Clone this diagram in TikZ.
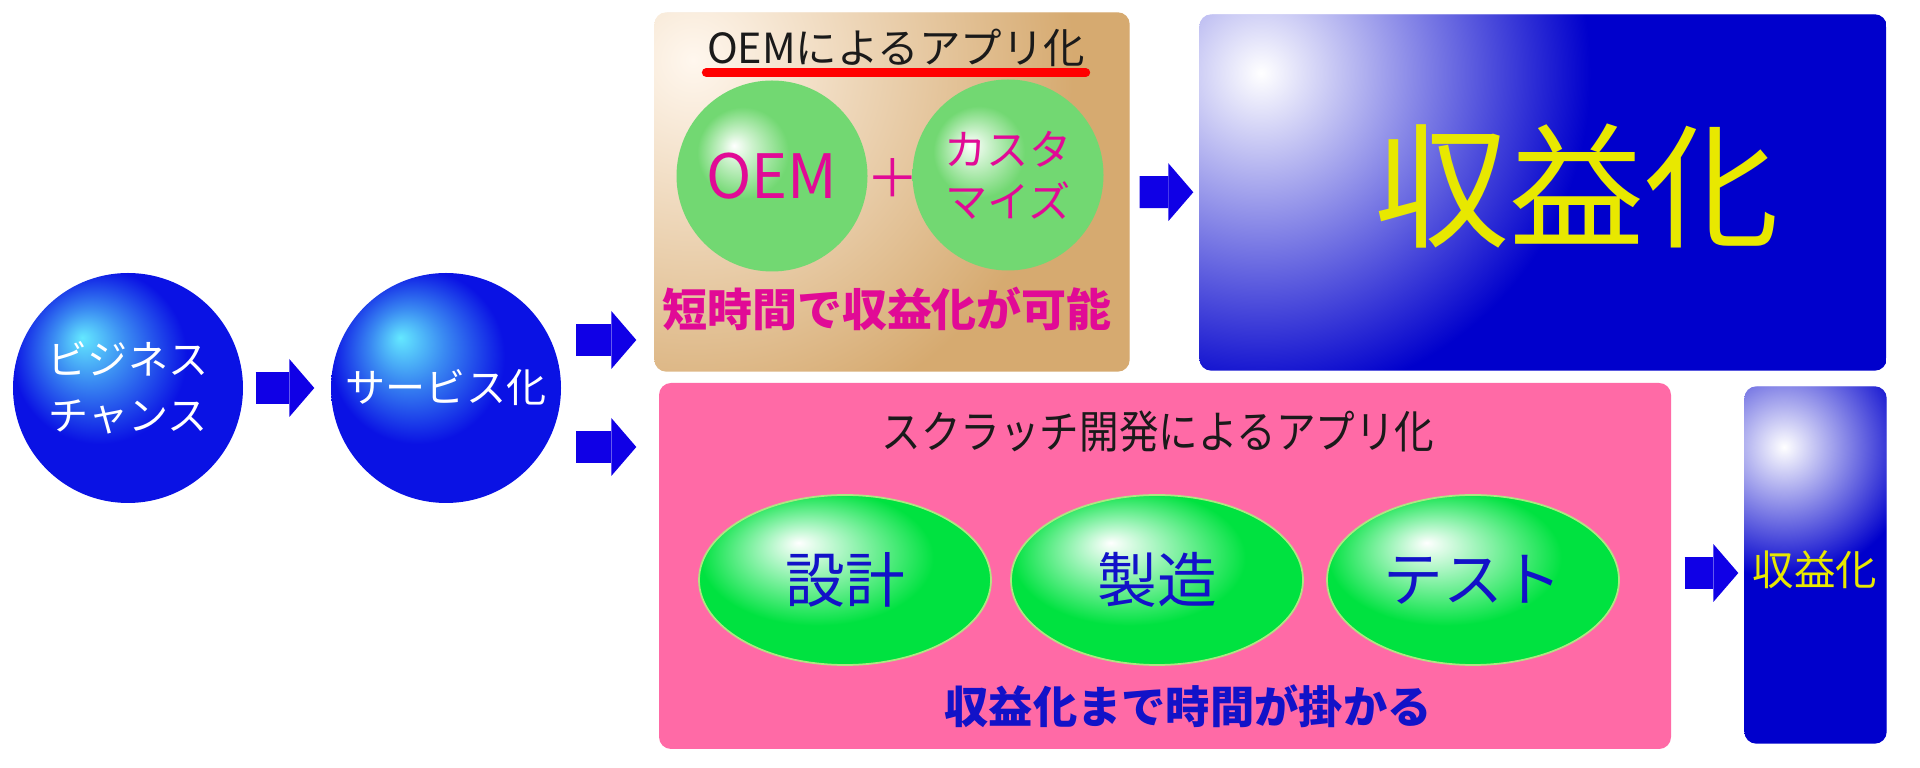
\documentclass[tikz,border=0pt]{standalone}
\usepackage{fontspec}
\setmainfont{Noto Sans CJK JP}
\usetikzlibrary{arrows.meta, positioning, shapes.geometric}

\definecolor{ballblue}{RGB}{10,18,228}
\definecolor{ballcyan}{RGB}{100,232,255}
\definecolor{ballmid}{RGB}{58,138,242}
\definecolor{oemtan}{RGB}{214,170,112}
\definecolor{oemlight}{RGB}{255,247,238}
\definecolor{leafgreen}{RGB}{114,216,114}
\definecolor{leaflight}{RGB}{205,242,205}
\definecolor{oemmagenta}{RGB}{225,10,150}
\definecolor{goalblue}{RGB}{0,0,204}
\definecolor{scrpink}{RGB}{255,106,166}
\definecolor{stepgreen}{RGB}{0,226,64}
\definecolor{steplight}{RGB}{165,245,190}
\definecolor{stepedge}{RGB}{175,230,130}
\definecolor{textblue}{RGB}{18,18,200}
\definecolor{goalyellow}{RGB}{232,232,0}
\definecolor{arrowblue}{RGB}{16,0,230}
\definecolor{titleblack}{RGB}{26,26,26}

% 球の陰影（左上にハイライト）
\pgfdeclareradialshading{bluesphere}{\pgfpoint{-10bp}{11bp}}{color(0bp)=(ballcyan); color(8bp)=(ballmid); color(19bp)=(ballblue); color(50bp)=(ballblue)}
\pgfdeclareradialshading{leafsphere}{\pgfpoint{-10bp}{8bp}}{color(0bp)=(white); color(4bp)=(leaflight); color(12bp)=(leafgreen); color(50bp)=(leafgreen)}
\pgfdeclareradialshading{stepsphere}{\pgfpoint{-8bp}{11bp}}{color(0bp)=(white); color(7bp)=(steplight); color(20bp)=(stepgreen); color(50bp)=(stepgreen)}
% 箱の光（8bp で地の色になる）
\pgfdeclareradialshading{blueglow}{\pgfpoint{0bp}{0bp}}{color(0bp)=(white); color(8bp)=(goalblue); color(50bp)=(goalblue)}
\pgfdeclareradialshading{tanglow}{\pgfpoint{0bp}{0bp}}{color(0bp)=(oemlight); color(8bp)=(oemtan); color(50bp)=(oemtan)}

\begin{document}
\begin{tikzpicture}[
    bizball/.style={circle, minimum size=2.3cm, inner sep=0pt, shade, shading=bluesphere,
      text=white, align=center, font=\fontsize{11.4}{15.9}\selectfont},
    leafball/.style={circle, minimum size=1.91cm, inner sep=0pt, shade, shading=leafsphere,
      text=oemmagenta, align=center},
    stepball/.style={ellipse, minimum width=2.92cm, minimum height=1.70cm, inner sep=0pt,
      shade, shading=stepsphere, draw=stepedge, line width=0.5pt, text=textblue,
      font=\fontsize{17}{20}\selectfont},
    panel/.style={rounded corners=0.12cm, inner sep=0pt},
    blockarrow/.style={arrowblue, line width=0.32cm,
      -{Triangle[width=0.58cm, length=0.25cm, line width=0pt]}},
  ]
  \useasboundingbox (0,0) rectangle (19.2,7.68);

  % ビジネスチャンス → サービス化
  \node[bizball] (biz) at (1.28,3.80) {ビジネス\\チャンス};
  \node[bizball] (svc) at (4.46,3.80) {サービス化};
  \draw[blockarrow, shorten <=0.12cm, shorten >=0.16cm] (biz) -- (svc);

  % 分岐の矢印
  \coordinate (upfork) at (5.76,4.28);
  \coordinate (lowfork) at (5.76,3.21);

  % OEMによるアプリ化（上の箱）
  \node[panel, fill=oemtan, minimum width=4.74cm, minimum height=3.58cm] (oem) at (8.92,5.76) {};
  \begin{scope}
    \clip[rounded corners=0.12cm] (oem.south west) rectangle (oem.north east);
    \shade[shading=tanglow] (6.93,7.08) circle (11.9);
  \end{scope}
  \node[text=titleblack, font=\fontsize{11.8}{14}\selectfont, inner sep=0pt] (oemttl) at (8.96,7.20) {OEMによるアプリ化};
  \draw[red, line width=0.09cm, line cap=round]
    ([yshift=-0.05cm]oemttl.south west) -- ([yshift=-0.05cm]oemttl.south east);
  \node[leafball, font=\fontsize{17.4}{20}\selectfont] (oemball) at (7.72,5.92) {OEM};
  \node[leafball, font=\fontsize{12}{14.8}\selectfont] (custball) at (10.08,5.93) {カスタ\\マイズ};
  \node[text=oemmagenta, font=\fontsize{15}{15}\selectfont, inner sep=0pt] (plus) at (8.93,5.90) {＋};
  \node[text=oemmagenta, font=\bfseries\fontsize{12.8}{14}\selectfont] (oemnote) at (8.87,4.59) {短時間で収益化が可能};

  % 収益化（右上）
  \node[panel, fill=goalblue, minimum width=6.86cm, minimum height=3.55cm] (goal) at (15.43,5.755) {};
  \begin{scope}
    \clip[rounded corners=0.12cm] (goal.south west) rectangle (goal.north east);
    \shade[shading=blueglow] (12.61,6.95) circle (10.3);
  \end{scope}
  \node[text=goalyellow, font=\fontsize{38.4}{40}\selectfont] (goaltxt) at (15.77,5.82) {収益化};

  % スクラッチ開発によるアプリ化（下の箱）
  \node[panel, fill=scrpink, minimum width=10.12cm, minimum height=3.66cm] (scr) at (11.65,2.02) {};
  \node[text=titleblack, font=\fontsize{12.8}{14}\selectfont] (scrttl) at (11.58,3.36)
    {\scalebox{0.88}[1]{スクラッチ開発によるアプリ化}};
  \node[stepball] (design) at (8.45,1.88) {設計};
  \node[stepball] (build) at (11.57,1.88) {製造};
  \node[stepball] (test) at (14.73,1.88) {テスト};
  \node[text=textblue, font=\bfseries\fontsize{12.6}{14}\selectfont] (scrnote) at (11.88,0.62) {収益化まで時間が掛かる};

  % 収益化（右下）
  \node[panel, fill=goalblue, minimum width=1.41cm, minimum height=3.56cm] (fin) at (18.155,2.03) {};
  \begin{scope}
    \clip[rounded corners=0.12cm] (fin.south west) rectangle (fin.north east);
    \shade[shading=blueglow] (17.84,3.21) circle (4.1);
  \end{scope}
  \node[text=goalyellow, font=\fontsize{11.8}{13}\selectfont] (fintxt) at (18.15,1.98) {収益化};

  % 矢印
  \draw[blockarrow, shorten >=0.18cm] (upfork) -- (upfork -| oem.west);
  \draw[blockarrow, shorten >=0.22cm] (lowfork) -- (lowfork -| scr.west);
  \draw[blockarrow, shorten <=0.10cm, shorten >=0.06cm] (oem) -- (goal);
  \draw[blockarrow, shorten <=0.13cm, shorten >=0.06cm]
    ([yshift=-0.07cm]scr.east) -- ([yshift=-0.07cm]scr.east -| fin.west);
\end{tikzpicture}
\end{document}
